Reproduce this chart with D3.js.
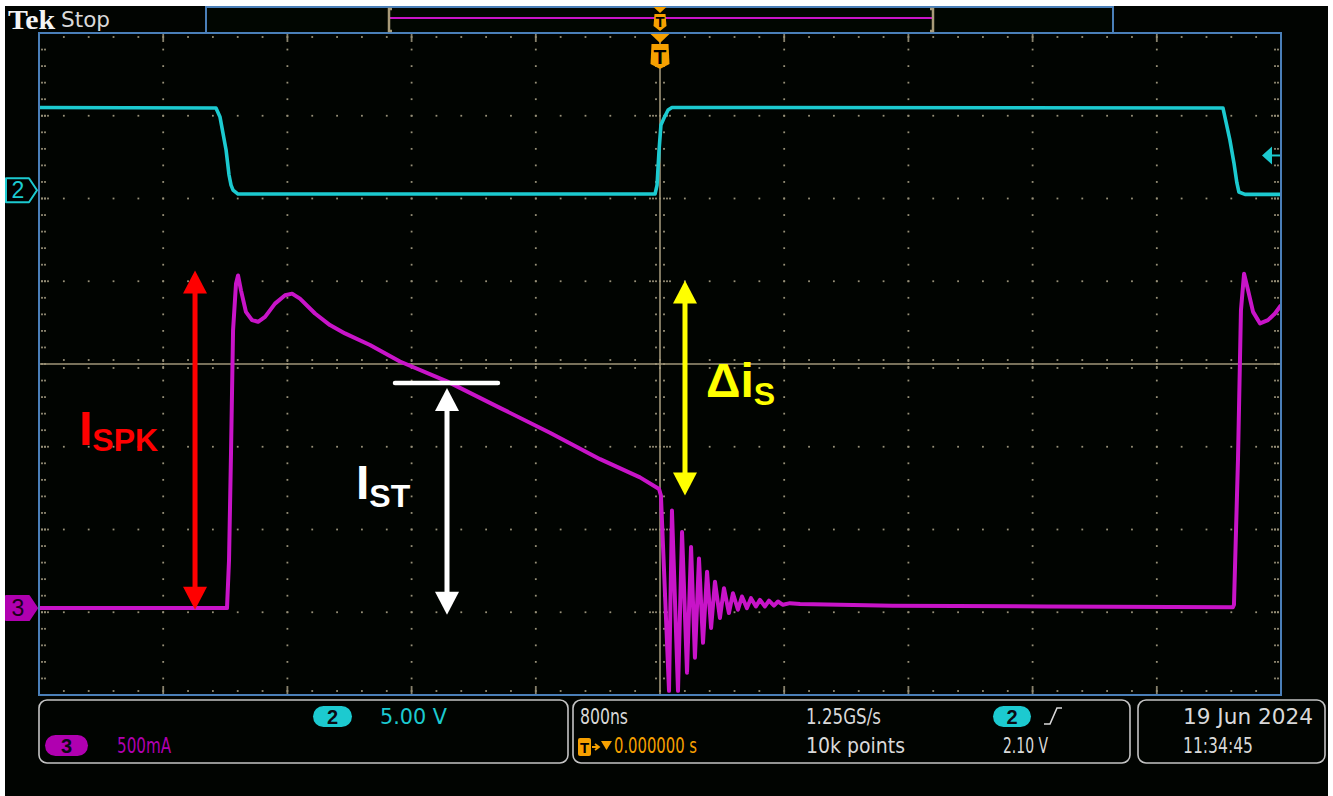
<!DOCTYPE html>
<html>
<head>
<meta charset="utf-8">
<script src="https://cdn.jsdelivr.net/npm/d3@7/dist/d3.min.js"></script>
<style>
  html, body { margin: 0; padding: 0; background: #ffffff; }
  svg { display: block; }
</style>
</head>
<body>
<svg id="scope" width="1333" height="796"></svg>
<script>
// ---- Acquisition settings ----
const timePerDivNs = 800;          // horizontal scale
const horizDivs = 10;
const vertDivs = 8;
const triggerTimeNs = 0;

// CH2: gate drive voltage, 5 V/div, ground marker +2.1 div
const ch2VoltsPerDiv = 5.0;
const ch2OffsetDiv = 2.1;
const ch2TimeNs = [-4000, -2860, -2834, -2795, -2776, -2763, -2750, -2718,
                   -32, -19, -6, 6, 26, 52, 77,
                   3626, 3671, 3697, 3716, 3729, 3768, 4000];
const ch2Volts  = [5.0, 4.97, 4.42, 2.43, 0.92, 0.31, 0.01, -0.23,
                   -0.23, 0.31, 2.43, 3.94, 4.36, 4.85, 5.0,
                   4.97, 3.03, 1.64, 0.44, -0.11, -0.25, -0.25];
const triggerLevelV = 2.10;

// CH3: switch current, 500 mA/div, ground marker -2.95 div
const ch3AmpsPerDiv = 0.5;
const ch3OffsetDiv = -2.95;
const ch3TimeNs = [-4000, -2789, -2776, -2763, -2750, -2731, -2718, -2699, -2667, -2628,
                   -2589, -2544, -2480, -2415, -2370, -2319, -2222, -2126, -2029, -1868,
                   -1675, -1372, -1031, -709, -386, -129, -6,
                   6, 58, 77, 116, 142, 174, 200, 225, 251, 277, 303, 329, 354, 386, 412,
                   444, 470, 502, 528, 560, 586, 618, 644, 676, 702, 734, 760, 792, 837, 902,
                   1500, 2500, 3690, 3697, 3723, 3742, 3762, 3788, 3820, 3865, 3916, 3961, 4000];
const ch3Amps   = [0.0, 0.0, 0.29, 0.95, 1.68, 1.96, 2.01, 1.92, 1.79, 1.74,
                   1.73, 1.76, 1.84, 1.89, 1.90, 1.87, 1.78, 1.71, 1.66, 1.59,
                   1.49, 1.37, 1.21, 1.06, 0.90, 0.79, 0.72,
                   0.68, -0.50, 0.59, -0.50, 0.46, -0.39, 0.37, -0.30, 0.30, -0.21, 0.22, -0.12, 0.16, -0.06, 0.12,
                   -0.03, 0.09, -0.01, 0.07, 0.0, 0.06, 0.01, 0.05, 0.01, 0.045, 0.015, 0.04, 0.02, 0.03, 0.025,
                   0.015, 0.01, 0.005, 0.02, 0.9, 1.8, 2.02, 1.92, 1.79, 1.72, 1.74, 1.78, 1.83];

// ---- Annotation arrows (time in ns, current in A) ----
const arrowNames  = ["ISPK", "IST", "dIS"];
const arrowColors = ["#ff0000", "#ffffff", "#ffff00"];
const arrowTimeNs = [-2995, -1372, 161];
const arrowLowA   = [-0.01, -0.04, 0.68];
const arrowHighA  = [2.04, 1.33, 1.98];
const steadyLevelA = 1.36;
const steadyBarNs = [-1707, -1044];

// ---- Readout panel text ----
const ch2Readout = "5.00 V";
const ch3Readout = "500mA";
const timebaseText = "800ns";
const sampleRateText = "1.25GS/s";
const recordText = "10k points";
const trigPosText = "0.000000 s";
const trigLevelText = "2.10 V";
const dateText = "19 Jun  2024";
const timeText = "11:34:45";

// ---- Layout ----
const W = 1333, H = 796;
const plot = { left: 39, right: 1281, top: 33, bottom: 695 };
const col = {
  grid: "#979078", axis: "#a09679", frame: "#4a7fb8",
  ch2: "#1ccad0", ch3: "#c814c8",
  orange: "#f6a000", readout: "#d9d9d9", box: "#c4c4c4"
};
const monoFont = "'Liberation Sans Narrow','DejaVu Sans Condensed','Roboto',sans-serif";
const boldFont = "'Liberation Sans',Arial,'Helvetica',sans-serif";

const svg = d3.select("#scope");

const x = d3.scaleLinear()
  .domain([-horizDivs / 2 * timePerDivNs, horizDivs / 2 * timePerDivNs])
  .range([plot.left, plot.right]);
const yDiv = d3.scaleLinear().domain([-vertDivs / 2, vertDivs / 2]).range([plot.bottom, plot.top]);
const y2 = v => yDiv(v / ch2VoltsPerDiv + ch2OffsetDiv);
const y3 = a => yDiv(a / ch3AmpsPerDiv + ch3OffsetDiv);

// background: black screen with thin white edge
svg.append("rect").attr("width", W).attr("height", H).attr("fill", "#ffffff");
svg.append("rect").attr("x", 5).attr("y", 6).attr("width", W - 10).attr("height", H - 6).attr("fill", "#010401");

// ---- Graticule ----
const grid = svg.append("g");
const minorT = timePerDivNs / 5;
const minorXs = d3.range(0, horizDivs * 5 + 1).map(i => x(x.domain()[0] + i * minorT));
const minorYs = d3.range(0, vertDivs * 5 + 1).map(j => yDiv(-vertDivs / 2 + j * 0.2));
const majorXs = d3.range(0, horizDivs + 1).map(i => x(x.domain()[0] + i * timePerDivNs));
const majorYs = d3.range(0, vertDivs + 1).map(j => yDiv(-vertDivs / 2 + j));
const cx = x(0), cy = yDiv(0);
const dots = [];
majorXs.forEach((mx, i) => {
  if (i === 0 || i === horizDivs || i === horizDivs / 2) return;
  minorYs.forEach(my => dots.push([mx, my]));
  // longer border ticks at major positions
  [2, 4, 6, 8].forEach(o => { dots.push([mx, plot.top + o]); dots.push([mx, plot.bottom - o]); });
  [-3, 3].forEach(o => dots.push([mx, cy + o]));
});
majorYs.forEach((my, j) => {
  if (j === 0 || j === vertDivs || j === vertDivs / 2) return;
  minorXs.forEach(mx => dots.push([mx, my]));
  [3, 6, 9].forEach(o => { dots.push([plot.left + o, my]); dots.push([plot.right - o, my]); });
  [-10, -7, 7, 10].forEach(o => dots.push([cx + o, my]));
});
minorXs.forEach(mx => { dots.push([mx, plot.top + 4]); dots.push([mx, plot.bottom - 4]); });
minorYs.forEach(my => {
  [3, 6].forEach(o => { dots.push([plot.left + o, my]); dots.push([plot.right - o, my]); });
});
// ticks on the centre cross
minorXs.forEach(mx => [-4, 4].forEach(o => dots.push([mx, cy + o])));
minorYs.forEach(my => [-4, 4].forEach(o => dots.push([cx + o, my])));
grid.selectAll("rect.dot").data(dots).join("rect")
  .attr("class", "dot")
  .attr("x", d => d[0] - 0.9).attr("y", d => d[1] - 0.9)
  .attr("width", 1.8).attr("height", 1.8)
  .attr("fill", col.grid);
grid.append("line").attr("x1", plot.left).attr("x2", plot.right).attr("y1", cy).attr("y2", cy)
  .attr("stroke", col.axis).attr("stroke-width", 1.6);
grid.append("line").attr("x1", cx).attr("x2", cx).attr("y1", plot.top).attr("y2", plot.bottom)
  .attr("stroke", col.axis).attr("stroke-width", 1.6);

// ---- Waveforms ----
svg.append("clipPath").attr("id", "plotClip").append("rect")
  .attr("x", plot.left).attr("y", plot.top)
  .attr("width", plot.right - plot.left).attr("height", plot.bottom - plot.top);
const traces = svg.append("g").attr("clip-path", "url(#plotClip)");

const ch2Data = ch2TimeNs.map((t, i) => [t, ch2Volts[i]]);
const ch3Data = ch3TimeNs.map((t, i) => [t, ch3Amps[i]]);

traces.append("path").datum(ch2Data)
  .attr("d", d3.line().x(d => x(d[0])).y(d => y2(d[1])))
  .attr("fill", "none").attr("stroke", col.ch2).attr("stroke-width", 3.6)
  .attr("stroke-linejoin", "round");
traces.append("path").datum(ch3Data)
  .attr("d", d3.line().x(d => x(d[0])).y(d => y3(d[1])))
  .attr("fill", "none").attr("stroke", col.ch3).attr("stroke-width", 4)
  .attr("stroke-linejoin", "round");

// ---- Frame and record-view bar ----
svg.append("rect").attr("x", 206).attr("y", 7).attr("width", 1113 - 206).attr("height", plot.top - 7)
  .attr("fill", "#010601").attr("stroke", col.frame).attr("stroke-width", 2);
svg.append("rect").attr("x", plot.left).attr("y", plot.top)
  .attr("width", plot.right - plot.left).attr("height", plot.bottom - plot.top)
  .attr("fill", "none").attr("stroke", col.frame).attr("stroke-width", 2);
// visible window inside the record
const recX = d3.scaleLinear().domain([-horizDivs / 2 * timePerDivNs, horizDivs / 2 * timePerDivNs]).range([389, 933]);
svg.append("line").attr("x1", recX.range()[0]).attr("x2", recX.range()[1]).attr("y1", 18).attr("y2", 18)
  .attr("stroke", col.ch3).attr("stroke-width", 2);
recX.range().forEach((bx, k) => {
  const s = k === 0 ? 1 : -1;
  svg.append("path")
    .attr("d", `M${bx + 3 * s},9 L${bx},9 L${bx},31 L${bx + 3 * s},31`)
    .attr("fill", "none").attr("stroke", "#a89a78").attr("stroke-width", 2.5);
});

// trigger position markers
function trigMarker(px, top, w, triH, bodyH, fs) {
  const g = svg.append("g");
  g.append("path")
    .attr("d", `M${px - w / 2},${top} L${px + w / 2},${top} L${px},${top + triH} Z`)
    .attr("fill", col.orange);
  const b = top + triH;
  g.append("path")
    .attr("d", `M${px - w / 2 + 1},${b + 1} L${px + w / 2 - 1},${b + 1} L${px + w / 2},${b + bodyH - 5} ` +
               `L${px},${b + bodyH} L${px - w / 2},${b + bodyH - 5} Z`)
    .attr("fill", col.orange);
  g.append("text").attr("x", px).attr("y", b + bodyH * 0.5 + fs * 0.36)
    .attr("text-anchor", "middle").attr("font-family", boldFont).attr("font-weight", "bold")
    .attr("font-size", fs).attr("fill", "#000").text("T");
}
trigMarker(x(triggerTimeNs), 7, 13, 6, 18, 15);
trigMarker(x(triggerTimeNs), 34, 19, 9, 26, 21);

// ---- Channel ground markers ----
function chMarker(cyPos, label, filled, color) {
  const g = svg.append("g");
  g.append("path")
    .attr("d", `M6,${cyPos - 12} L29,${cyPos - 12} L37,${cyPos} L29,${cyPos + 12} L6,${cyPos + 12} Z`)
    .attr("fill", filled ? color : "#000").attr("stroke", color).attr("stroke-width", 2)
    .attr("stroke-linejoin", "round");
  g.append("text").attr("x", 18).attr("y", cyPos + 8)
    .attr("text-anchor", "middle").attr("font-family", boldFont)
    .attr("font-size", 23).attr("fill", filled ? "#1a001a" : color).text(label);
}
chMarker(y2(0), "2", false, col.ch2);
chMarker(y3(0), "3", true, "#b000b0");

// trigger level indicator
const tl = y2(triggerLevelV);
svg.append("path").attr("d", `M1262,${tl} L1272,${tl - 9} L1272,${tl + 9} Z`).attr("fill", col.ch2);
svg.append("line").attr("x1", 1271).attr("x2", 1280).attr("y1", tl).attr("y2", tl)
  .attr("stroke", col.ch2).attr("stroke-width", 2);

// ---- Annotations ----
const ann = svg.append("g");
function dblArrow(px, yTop, yBot, color) {
  const hl = 23, hw = 12, sw = 5;
  ann.append("rect").attr("x", px - sw / 2).attr("y", yTop + hl - 1)
    .attr("width", sw).attr("height", yBot - yTop - 2 * hl + 2).attr("fill", color);
  ann.append("path").attr("d", `M${px},${yTop} L${px + hw},${yTop + hl} L${px - hw},${yTop + hl} Z`).attr("fill", color);
  ann.append("path").attr("d", `M${px},${yBot} L${px + hw},${yBot - hl} L${px - hw},${yBot - hl} Z`).attr("fill", color);
}
arrowNames.forEach((n, i) => dblArrow(x(arrowTimeNs[i]), y3(arrowHighA[i]), y3(arrowLowA[i]), arrowColors[i]));
ann.append("line")
  .attr("x1", x(steadyBarNs[0])).attr("x2", x(steadyBarNs[1]))
  .attr("y1", y3(steadyLevelA)).attr("y2", y3(steadyLevelA))
  .attr("stroke", "#ffffff").attr("stroke-width", 4.5).attr("stroke-linecap", "round");

function subLabel(px, py, main, sub, color, subDy) {
  const t = ann.append("text").attr("x", px).attr("y", py)
    .attr("font-family", boldFont).attr("font-weight", "bold").attr("font-size", 48).attr("fill", color);
  t.append("tspan").text(main);
  t.append("tspan").attr("font-size", 32).attr("dy", subDy).text(sub);
}
subLabel(79, 445, "I", "SPK", "#ff0000", 6);
subLabel(356, 499, "I", "ST", "#ffffff", 8);
subLabel(706, 397, "\u0394i", "S", "#ffff00", 8);

// ---- Readout panel ----
const panel = svg.append("g");
[[39, 529], [573, 557], [1138, 187]].forEach(([bx, bw]) => {
  panel.append("rect").attr("x", bx).attr("y", 700).attr("width", bw).attr("height", 63)
    .attr("rx", 8).attr("fill", "none").attr("stroke", col.box).attr("stroke-width", 1.6);
});
function badge(bx, by, bw, bh, label, color) {
  panel.append("rect").attr("x", bx).attr("y", by).attr("width", bw).attr("height", bh)
    .attr("rx", bh / 2).attr("fill", color);
  panel.append("text").attr("x", bx + bw / 2).attr("y", by + bh / 2 + 7)
    .attr("text-anchor", "middle").attr("font-family", boldFont).attr("font-weight", "bold")
    .attr("font-size", 20).attr("fill", "#0a0a14").text(label);
}
function readout(tx, ty, str, len, color) {
  panel.append("text").attr("x", tx).attr("y", ty)
    .attr("font-family", monoFont).attr("font-size", 22).attr("fill", color)
    .attr("textLength", len).attr("lengthAdjust", "spacingAndGlyphs").text(str);
}
badge(313, 706, 39, 21, "2", col.ch2);
readout(380, 724, ch2Readout, 67, col.ch2);
badge(45, 735, 43, 21, "3", "#b000b0");
readout(117, 753, ch3Readout, 54, "#b000b0");

readout(580, 724, timebaseText, 48, col.readout);
readout(806, 724, sampleRateText, 75, col.readout);
readout(806, 753, recordText, 99, col.readout);
badge(993, 706, 38, 21, "2", col.ch2);
panel.append("path").attr("d", "M1044,724 L1050,724 L1057,708 L1062,708")
  .attr("fill", "none").attr("stroke", col.readout).attr("stroke-width", 1.6);
readout(1003, 753, trigLevelText, 45, col.readout);

// trigger position readout: T box, arrow, down triangle
panel.append("rect").attr("x", 578).attr("y", 738).attr("width", 13).attr("height", 18).attr("rx", 2).attr("fill", col.orange);
panel.append("text").attr("x", 584.5).attr("y", 753).attr("text-anchor", "middle")
  .attr("font-family", boldFont).attr("font-weight", "bold").attr("font-size", 15).attr("fill", "#000").text("T");
panel.append("path").attr("d", "M592,747 L598,747 M595,744 L599,747 L595,750")
  .attr("fill", "none").attr("stroke", col.orange).attr("stroke-width", 1.8);
panel.append("path").attr("d", "M601,741 L612,741 L606.5,750 Z").attr("fill", col.orange);
readout(614, 753, trigPosText, 83, col.orange);

readout(1183, 724, dateText, 130, col.readout);
readout(1183, 753, timeText, 70, col.readout);

// ---- Instrument header ----
svg.append("text").attr("x", 8).attr("y", 29)
  .attr("font-family", "'Liberation Serif','DejaVu Serif',serif").attr("font-weight", "bold")
  .attr("font-size", 27).attr("fill", "#f4f4f4")
  .attr("textLength", 47).attr("lengthAdjust", "spacingAndGlyphs").text("Tek");
svg.append("text").attr("x", 61).attr("y", 27)
  .attr("font-family", monoFont).attr("font-size", 22).attr("fill", "#d9d9d9")
  .attr("textLength", 49).attr("lengthAdjust", "spacingAndGlyphs").text("Stop");
</script>
</body>
</html>
